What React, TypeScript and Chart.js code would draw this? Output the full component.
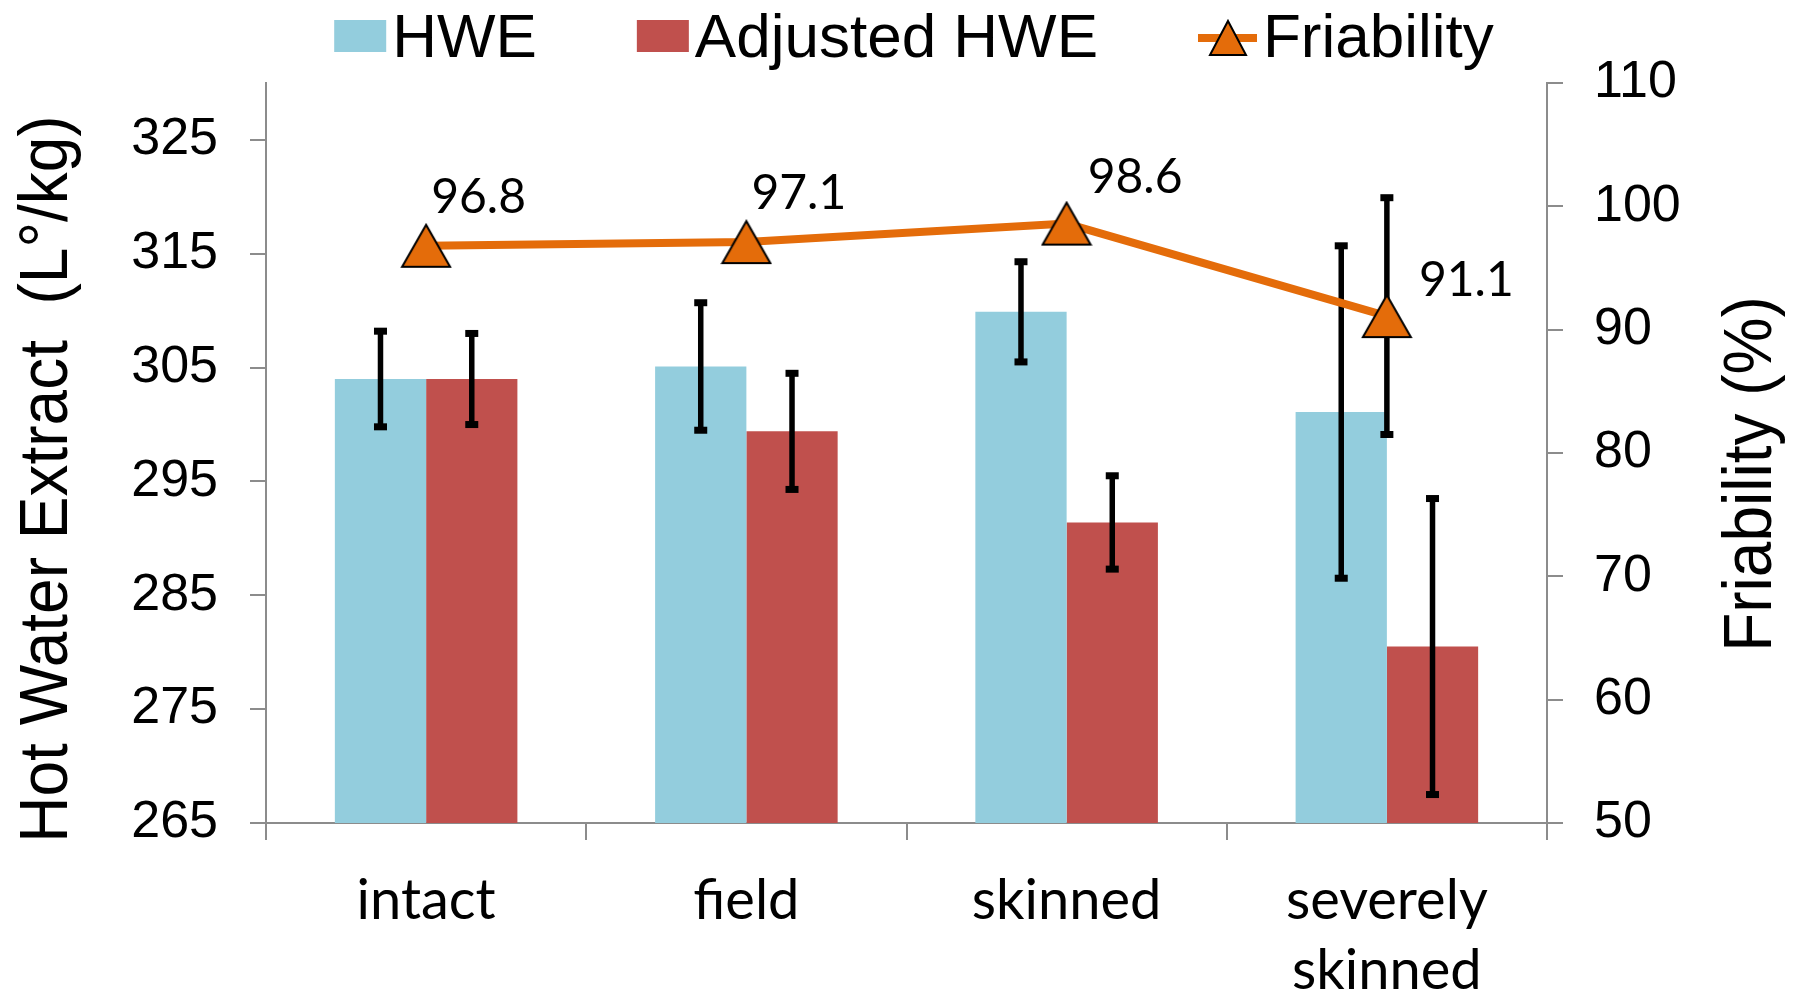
import React, { useEffect, useRef } from 'react';
import { Chart, registerables } from 'chart.js';

Chart.register(...registerables);

// ---------- data ----------
const CATEGORIES: (string | string[])[] = ['intact', 'field', 'skinned', ['severely', 'skinned']];
const HWE = [304.0, 305.1, 309.9, 301.1];
const HWE_ERR = [4.2, 5.6, 4.4, 14.6];
const ADJ_HWE = [304.0, 299.4, 291.4, 280.5];
const ADJ_HWE_ERR = [4.0, 5.1, 4.1, 13.0];
const FRIABILITY = [96.8, 97.1, 98.6, 91.1];
const FRIABILITY_ERR: (number | null)[] = [null, null, null, 9.6];
const FRIABILITY_LABELS = ['96.8', '97.1', '98.6', '91.1'];
const LEFT_TICKS = [265, 275, 285, 295, 305, 315, 325];
const RIGHT_TICKS = [50, 60, 70, 80, 90, 100, 110];
const SERIES_NAMES = ['HWE', 'Adjusted HWE', 'Friability'];
const LEFT_TITLE = 'Hot Water Extract  (L°/kg)';
const RIGHT_TITLE = 'Friability (%)';

// ---------- styles ----------
const HWE_COLOR = '#93CDDD';
const ADJ_COLOR = '#C0504D';
const LINE_COLOR = '#E46C0A';
const AXIS_COLOR = '#8C8C8C';
const LABEL_DX = [5, 5, 21, 32];
const LABEL_DY = [-33, -33, -31, -20];
const SANS = '"Liberation Sans", Arial, sans-serif';

function makeTriangle(w: number, h: number, lw: number) {
  const c = document.createElement('canvas');
  c.width = Math.ceil(w + lw * 2);
  c.height = Math.ceil(h + lw * 2);
  const ctx = c.getContext('2d')!;
  ctx.beginPath();
  ctx.moveTo(c.width / 2, lw);
  ctx.lineTo(c.width - lw, lw + h);
  ctx.lineTo(lw, lw + h);
  ctx.closePath();
  ctx.fillStyle = LINE_COLOR;
  ctx.fill();
  ctx.lineWidth = lw;
  ctx.strokeStyle = '#000';
  ctx.lineJoin = 'miter';
  ctx.stroke();
  return c;
}

const errorBarPlugin = {
  id: 'errorBars',
  beforeDatasetDraw(chart: any, args: any) {
    if (args.index !== 2) return;
    const ctx = chart.ctx;
    ctx.save();
    ctx.fillStyle = '#000';
    const draw = (dsIndex: number, vals: number[], errs: (number | null)[], scaleId: string) => {
      const meta = chart.getDatasetMeta(dsIndex);
      const scale = chart.scales[scaleId];
      meta.data.forEach((el: any, i: number) => {
        const e = errs[i];
        if (e == null) return;
        const x = el.x;
        const yTop = scale.getPixelForValue(vals[i] + e);
        const yBot = scale.getPixelForValue(vals[i] - e);
        ctx.fillRect(x - 2.75, yTop, 5.5, yBot - yTop);
        ctx.fillRect(x - 6.5, yTop - 3.5, 13, 7);
        ctx.fillRect(x - 6.5, yBot - 3.5, 13, 7);
      });
    };
    draw(0, HWE, HWE_ERR, 'y');
    draw(1, ADJ_HWE, ADJ_HWE_ERR, 'y');
    draw(2, FRIABILITY, FRIABILITY_ERR, 'y1');
    ctx.restore();
  },
};

const decorPlugin = {
  id: 'decor',
  afterDraw(chart: any) {
    const ctx = chart.ctx;
    const area = chart.chartArea;
    // data labels
    const meta = chart.getDatasetMeta(2);
    ctx.save();
    ctx.fillStyle = '#000';
    ctx.font = '48px Lato';
    ctx.textAlign = 'left';
    ctx.textBaseline = 'alphabetic';
    meta.data.forEach((el: any, i: number) => {
      ctx.fillText(FRIABILITY_LABELS[i], el.x + LABEL_DX[i], el.y + LABEL_DY[i]);
    });
    ctx.restore();

    // axis titles
    const midY = (area.top + area.bottom) / 2;
    const drawTitle = (text: string, x: number, y: number) => {
      ctx.save();
      ctx.translate(x, y);
      ctx.rotate(-Math.PI / 2);
      ctx.scale(1, 1.08);
      ctx.font = `64px ${SANS}`;
      ctx.fillStyle = '#000';
      ctx.textAlign = 'center';
      ctx.textBaseline = 'middle';
      ctx.fillText(text, 0, 0);
      ctx.restore();
    };
    drawTitle(LEFT_TITLE, 48, midY + 26);
    drawTitle(RIGHT_TITLE, chart.width - 46, midY + 21);

    // legend
    ctx.save();
    ctx.font = `62px ${SANS}`;
    ctx.textBaseline = 'alphabetic';
    ctx.textAlign = 'left';
    const symW = [52, 52, 59];
    const gap = 6;
    const itemGap = 100;
    const widths = SERIES_NAMES.map((n, i) => symW[i] + gap + ctx.measureText(n).width);
    const total = widths.reduce((a, b) => a + b, 0) + itemGap * (SERIES_NAMES.length - 1);
    let x = 914 - total / 2;
    const baseY = 57;
    SERIES_NAMES.forEach((name, i) => {
      if (i < 2) {
        ctx.fillStyle = i === 0 ? HWE_COLOR : ADJ_COLOR;
        ctx.fillRect(x, 20, 52, 32);
      } else {
        ctx.strokeStyle = LINE_COLOR;
        ctx.lineWidth = 8;
        ctx.beginPath();
        ctx.moveTo(x, 38);
        ctx.lineTo(x + 59, 38);
        ctx.stroke();
        const cx = x + 30;
        ctx.beginPath();
        ctx.moveTo(cx, 21);
        ctx.lineTo(cx + 18, 55);
        ctx.lineTo(cx - 18, 55);
        ctx.closePath();
        ctx.fillStyle = LINE_COLOR;
        ctx.fill();
        ctx.lineWidth = 2;
        ctx.strokeStyle = '#000';
        ctx.stroke();
      }
      ctx.fillStyle = '#000';
      ctx.fillText(name, x + symW[i] + gap, baseY);
      x += widths[i] + itemGap;
    });
    ctx.restore();
  },
};

export default function App() {
  const ref = useRef<HTMLCanvasElement | null>(null);

  useEffect(() => {
    if (!ref.current) return;
    const tri = makeTriangle(48, 42, 2);
    const chart = new Chart(ref.current, {
      type: 'bar',
      data: {
        labels: CATEGORIES as any,
        datasets: [
          {
            type: 'bar',
            label: SERIES_NAMES[0],
            data: HWE,
            backgroundColor: HWE_COLOR,
            yAxisID: 'y',
            order: 1,
            categoryPercentage: 0.57,
            barPercentage: 1.0,
          },
          {
            type: 'bar',
            label: SERIES_NAMES[1],
            data: ADJ_HWE,
            backgroundColor: ADJ_COLOR,
            yAxisID: 'y',
            order: 1,
            categoryPercentage: 0.57,
            barPercentage: 1.0,
          },
          {
            type: 'line',
            label: SERIES_NAMES[2],
            data: FRIABILITY,
            borderColor: LINE_COLOR,
            borderWidth: 8,
            backgroundColor: LINE_COLOR,
            pointStyle: tri as any,
            pointRadius: 20,
            tension: 0,
            yAxisID: 'y1',
            order: 0,
            clip: false as any,
          } as any,
        ],
      },
      options: {
        animation: false,
        responsive: true,
        maintainAspectRatio: false,
        layout: { padding: { top: 83, left: 0, right: 0, bottom: 0 }, autoPadding: false } as any,
        plugins: {
          legend: { display: false },
          tooltip: { enabled: false },
        },
        scales: {
          x: {
            offset: true,
            grid: { offset: true, drawOnChartArea: false, drawTicks: true, tickLength: 17, color: AXIS_COLOR, lineWidth: 2 },
            border: { color: AXIS_COLOR, width: 2 },
            ticks: {
              color: '#000',
              font: { family: 'Lato', size: 56, lineHeight: 1.25 },
              padding: 26,
              maxRotation: 0,
              autoSkip: false,
            },
            afterFit: (s: any) => { s.height = 169; },
          },
          y: {
            position: 'left',
            min: 265,
            max: 330,
            afterBuildTicks: (s: any) => { s.ticks = LEFT_TICKS.map((v) => ({ value: v })); },
            grid: { drawOnChartArea: false, drawTicks: true, tickLength: 16, color: AXIS_COLOR, lineWidth: 2 },
            border: { color: AXIS_COLOR, width: 2 },
            ticks: { color: '#000', font: { family: 'Liberation Sans', size: 52 }, padding: 32 },
            afterFit: (s: any) => { s.width = 266; },
          },
          y1: {
            position: 'right',
            min: 50,
            max: 110,
            afterBuildTicks: (s: any) => { s.ticks = RIGHT_TICKS.map((v) => ({ value: v })); },
            grid: { drawOnChartArea: false, drawTicks: true, tickLength: 16, color: AXIS_COLOR, lineWidth: 2 },
            border: { color: AXIS_COLOR, width: 2 },
            ticks: { color: '#000', font: { family: 'Liberation Sans', size: 52 }, padding: 31 },
            afterFit: (s: any) => { s.width = 251; },
          },
        },
      } as any,
      plugins: [errorBarPlugin, decorPlugin],
    });
    return () => chart.destroy();
  }, []);

  return (
    <div style={{ position: 'absolute', left: 0, top: 0, width: 1798, height: 992, background: '#fff' }}>
      <canvas ref={ref} />
    </div>
  );
}
